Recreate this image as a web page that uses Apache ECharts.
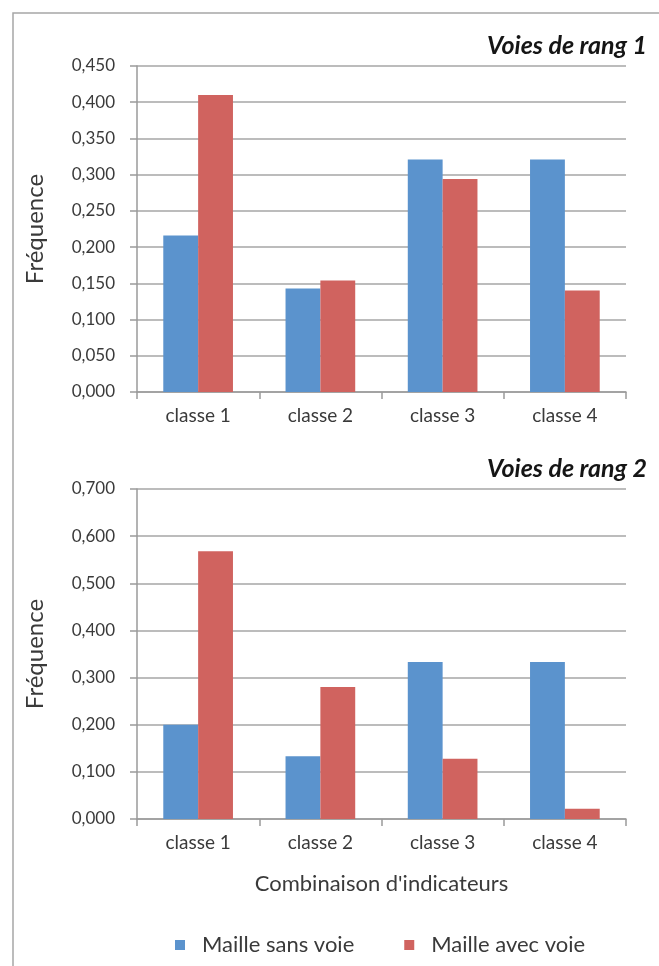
<!DOCTYPE html>
<html><head><meta charset="utf-8">
<script src="https://cdn.jsdelivr.net/npm/echarts@6/dist/echarts.min.js"></script>
<style>html,body{margin:0;padding:0;background:#fff}#c{width:659px;height:966px}</style>
</head><body><div id="c"></div>
<script>
const categories = ['classe 1','classe 2','classe 3','classe 4'];
const seriesNames = ['Maille sans voie','Maille avec voie'];
const rang1SansVoie = [0.216, 0.143, 0.321, 0.321];
const rang1AvecVoie = [0.410, 0.154, 0.294, 0.140];
const rang2SansVoie = [0.200, 0.133, 0.333, 0.333];
const rang2AvecVoie = [0.568, 0.280, 0.128, 0.022];
const titles = ['Voies de rang 1','Voies de rang 2'];
const yTitle = 'Fréquence';
const xTitle = "Combinaison d'indicateurs";

const FONT = 'Lato, "Open Sans", sans-serif';
const TXT = '#3a3a3a';
const BLUE = '#5B93CD', RED = '#D0635F';
const fmt = v => v.toFixed(3).replace('.', ',');
const chart = echarts.init(document.getElementById('c'));
const xAxisCommon = {
  type:'category', data: categories,
  axisLine:{lineStyle:{color:'#9a9a9a', width:1.5}},
  axisTick:{show:true, alignWithLabel:false, length:7, lineStyle:{color:'#9a9a9a', width:1.5}},
  axisLabel:{color:TXT, fontFamily:FONT, fontSize:19, margin:14}
};
const yAxisCommon = {
  type:'value', min:0,
  axisLine:{show:true, lineStyle:{color:'#9a9a9a', width:1.5}},
  axisTick:{show:true, length:7, lineStyle:{color:'#9a9a9a', width:1.5}},
  splitLine:{lineStyle:{color:'#a6a6a6', width:1.5}},
  axisLabel:{color:TXT, fontFamily:FONT, fontSize:17, margin:22, formatter:fmt},
  name: yTitle, nameLocation:'middle', nameRotate:90, nameGap:90,
  nameTextStyle:{color:TXT, fontFamily:FONT, fontSize:24}
};
chart.setOption({
  animation:false,
  backgroundColor:'#fff',
  graphic:[
    {type:'polyline', shape:{points:[[13,980],[13,13],[680,13]]}, style:{stroke:'#a6a6a6', lineWidth:1.5, fill:null}},
    {type:'text', right:12, top:33, style:{text:titles[0], font:'italic bold 25px '+FONT, fill:'#151515'}},
    {type:'text', right:12, top:456, style:{text:titles[1], font:'italic bold 25px '+FONT, fill:'#151515'}}
  ],
  legend:{
    top:929, left:170, itemWidth:10, itemHeight:10, itemGap:50,
    icon:'rect', data: seriesNames,
    textStyle:{color:TXT, fontFamily:FONT, fontSize:22, padding:[0,0,0,12]}
  },
  grid:[
    {left:137, right:33, top:66, height:326},
    {left:137, right:33, top:489, height:330}
  ],
  xAxis:[
    Object.assign({gridIndex:0}, xAxisCommon),
    Object.assign({gridIndex:1}, xAxisCommon, {
      name:xTitle, nameLocation:'middle', nameGap:54,
      nameTextStyle:{color:TXT, fontFamily:FONT, fontSize:22}
    })
  ],
  yAxis:[
    Object.assign({gridIndex:0, max:0.45, interval:0.05}, yAxisCommon),
    Object.assign({gridIndex:1, max:0.7, interval:0.1}, yAxisCommon)
  ],
  series:[
    {name:seriesNames[0], type:'bar', xAxisIndex:0, yAxisIndex:0, data:rang1SansVoie, itemStyle:{color:BLUE}, barGap:'0%', barCategoryGap:'43%'},
    {name:seriesNames[1], type:'bar', xAxisIndex:0, yAxisIndex:0, data:rang1AvecVoie, itemStyle:{color:RED}, barGap:'0%', barCategoryGap:'43%'},
    {name:seriesNames[0], type:'bar', xAxisIndex:1, yAxisIndex:1, data:rang2SansVoie, itemStyle:{color:BLUE}, barGap:'0%', barCategoryGap:'43%'},
    {name:seriesNames[1], type:'bar', xAxisIndex:1, yAxisIndex:1, data:rang2AvecVoie, itemStyle:{color:RED}, barGap:'0%', barCategoryGap:'43%'}
  ]
});
</script></body></html>
